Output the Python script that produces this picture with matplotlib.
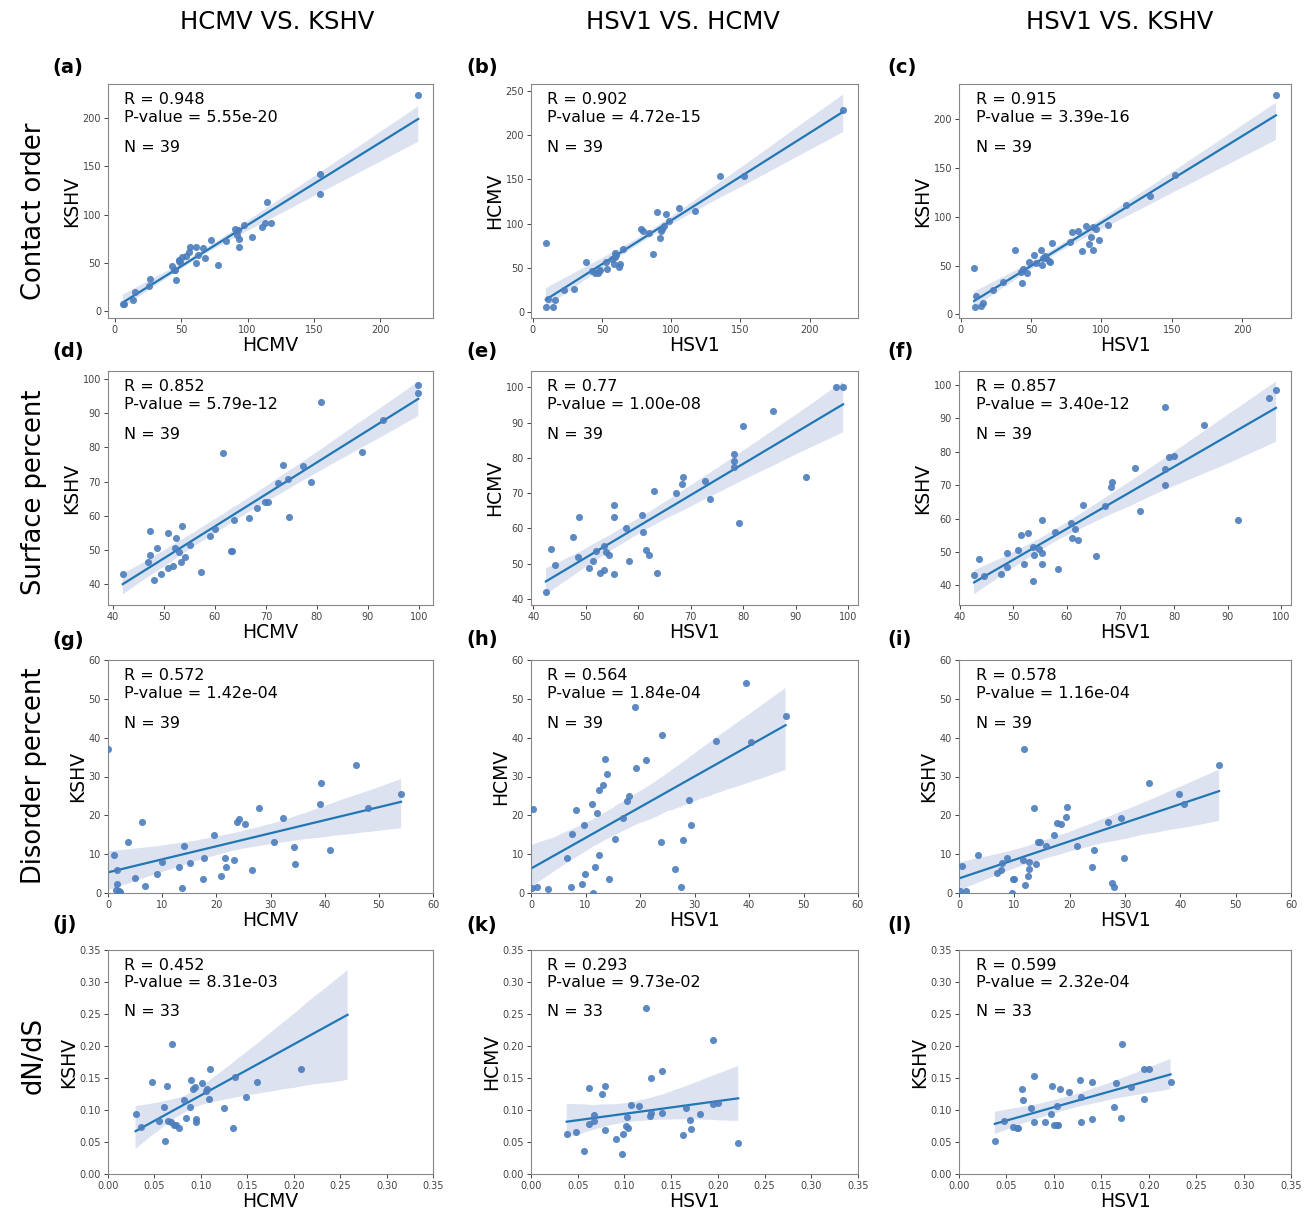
import matplotlib
matplotlib.use("Agg")
import matplotlib.pyplot as plt
import seaborn as sns

# ---- data ----
# contact order
co_a_hcmv = [228.5, 154.9, 154.4, 115, 118, 113.5, 111, 97.4, 90.3, 92.8, 92.3, 93.3, 93.3, 103.2,
             84, 72.6, 77.9, 66.6, 67.8, 61.5, 63, 61.3, 57, 55.7, 53.7, 50.4, 48.7, 48.2, 43.1,
             45.4, 44.4, 46.4, 26.5, 25.5, 15.1, 13.6, 6.1, 49.4, 7.1]
co_a_kshv = [224.4, 142.5, 121.5, 112.6, 91.6, 91.2, 87.4, 89.5, 85.4, 84.3, 78.8, 74.7, 66.4, 76.4,
             72.3, 73.3, 47.5, 65.1, 55.4, 66.1, 58.5, 50.3, 66.4, 60.9, 57.5, 55.8, 53, 52, 47.2,
             43, 42.3, 32.7, 33, 25.8, 19.6, 12, 7.6, 50.6, 7.2]
co_b_hsv1 = [224.1, 152.8, 135, 117.4, 105.4, 98.6, 96.2, 89.8, 94.6, 93.6, 92.8, 92.1, 78.2, 79.8,
             83.7, 86.9, 65.4, 59.1, 59.6, 57.2, 63.2, 62, 58.6, 53.1, 53.6, 38.7, 47.6, 42.8, 45.2,
             46.8, 48.3, 30, 22.8, 9.5, 11, 16.3, 9.8, 14.8, 60.4]
co_b_hcmv = [228.5, 154.2, 154.2, 114.8, 117.8, 102.9, 110.3, 113.3, 97, 94, 91.4, 84, 93.6, 92.1,
             89.5, 66.1, 71.7, 67.2, 62.4, 60.5, 54.6, 50.9, 54.2, 56.5, 49, 56.8, 46.4, 46.4, 43.8,
             44.6, 47.5, 26.4, 24.9, 77.6, 14.9, 13.4, 5.9, 5.9, 64.2]
co_c_hsv1 = [152.1, 134.5, 117.3, 104.8, 98.3, 95.9, 94.1, 89, 92.5, 91.5, 93.8, 86.4, 83.4, 79.2,
             77.8, 65, 56.7, 52.3, 58.3, 60.4, 57.6, 62.7, 63.4, 53.2, 48.3, 38.6, 44.4, 42.7, 47.2,
             43.2, 30, 22.8, 9.5, 10.9, 16, 14.6, 9.8, 224, 60]
co_c_kshv = [142.9, 121.5, 112.5, 91.5, 76.1, 87.5, 89.8, 90.8, 78.8, 72.1, 66.1, 65.4, 85.5, 84.1,
             74.5, 72.8, 65.8, 60.4, 57.8, 57.8, 50.4, 55.1, 54.1, 52.8, 53.4, 66.1, 46.1, 43.4, 42.1,
             32.7, 33.4, 25.4, 47.4, 19.4, 11.4, 8.3, 7.3, 225, 59.8]

# surface percent
sp_d_hcmv = [99.9, 99.9, 80.9, 93, 88.8, 61.5, 73.4, 77.2, 74.3, 72.4, 78.9, 69.8, 70.4, 68.2, 74.5,
             66.6, 63.7, 60, 59, 53.6, 47.3, 50.7, 52.4, 55, 48.6, 52.2, 53, 47.3, 54.1, 46.8, 63.2,
             53.4, 51.7, 50.7, 57.3, 49.4, 41.9, 48, 63.3]
sp_d_kshv = [98.3, 96, 93.3, 88, 78.7, 78.3, 75, 74.7, 70.9, 69.5, 70, 63.9, 64, 62.2, 59.7, 59.3,
             58.7, 56.2, 54.2, 57, 55.6, 55, 53.5, 51.5, 50.6, 50.5, 49.4, 48.6, 47.9, 46.4, 49.6,
             46.3, 45.4, 44.6, 43.5, 42.8, 42.9, 41.1, 49.6]
sp_e_hsv1 = [97.7, 99, 85.7, 80, 78.3, 78.3, 78.3, 92, 68.5, 68.3, 72.7, 73.6, 67.1, 63, 79.1, 55.3,
             55.3, 48.7, 60.7, 57.6, 60.9, 47.5, 43.3, 53.5, 51.9, 53.8, 54.5, 61.5, 62.1, 48.6,
             51.4, 58.2, 44.2, 50.7, 53.5, 52.7, 55.3, 63.6, 42.4]
sp_e_hcmv = [100, 100, 93.2, 89, 81.1, 79.1, 77.4, 74.5, 74.5, 72.5, 73.5, 68.4, 69.9, 70.5, 61.6,
             66.7, 63.2, 63.3, 63.8, 60.1, 59.1, 57.5, 54.2, 55.1, 53.6, 53.2, 52.4, 53.8, 52.5,
             51.8, 50.8, 50.8, 49.6, 48.8, 48.2, 47.5, 47, 47.4, 42.1]
sp_f_hsv1 = [78.3, 85.5, 79.1, 80, 72.7, 78.3, 78.3, 68.5, 68.3, 63.1, 67.1, 73.7, 92, 55.4, 60.8,
             61.6, 57.7, 52.8, 51.5, 61, 62.1, 50.8, 53.6, 54.8, 55.4, 53.8, 48.9, 48.8, 52, 55.4,
             65.4, 58.4, 47.7, 53.7, 43.6, 44.5, 42.7, 97.7, 99]
sp_f_kshv = [93.3, 88.1, 78.3, 78.7, 75.1, 74.8, 70.1, 70.8, 69.5, 64.1, 63.9, 62.2, 59.7, 59.5,
             58.8, 57, 56.1, 55.8, 55.1, 54.2, 53.6, 50.7, 51.5, 50.8, 49.8, 49.2, 49.6, 45.5, 46.3,
             46.5, 48.8, 44.8, 43.5, 41.3, 48, 42.9, 43, 96, 98.3]

# disorder percent
dp_g_hcmv = [0, 45.7, 39.3, 54.1, 39.1, 48, 27.9, 32.3, 24.1, 23.8, 25.2, 6.2, 19.5, 30.6, 3.7, 14,
             34.3, 40.9, 1.1, 17.8, 21.6, 23.2, 10, 15.2, 34.5, 21.8, 13.1, 26.5, 1.6, 9, 5, 17.5,
             20.8, 6.9, 13.7, 1.6, 1.4, 2, 2.3]
dp_g_kshv = [37.1, 32.9, 28.2, 25.4, 23, 22, 21.8, 19.4, 19.1, 18.2, 17.8, 18.2, 14.9, 13.2, 13.1,
             12.1, 11.9, 11.1, 9.7, 9, 8.9, 8.5, 8.1, 7.6, 7.5, 6.8, 6.6, 6, 5.8, 5, 3.8, 3.6, 4.4,
             1.9, 1.4, 2.4, 0.7, 0.4, 0.2]
dp_h_hsv1 = [39.4, 19.1, 46.7, 24.1, 34, 40.4, 13.6, 21.1, 19.2, 13.9, 13.3, 12.4, 18, 17.6, 11.2,
             29, 0.4, 8.3, 12.1, 16.9, 7.6, 9.7, 29.4, 15.4, 27.8, 23.9, 6.6, 12.4, 11.7, 9.9, 26.5,
             14.3, 9.3, 7.3, 27.5, 0.1, 1.1, 3.2, 11.4]
dp_h_hcmv = [54, 47.9, 45.5, 40.8, 39.2, 39, 34.5, 34.2, 32.2, 30.6, 27.8, 26.4, 25, 23.7, 23, 24,
             21.7, 21.5, 20.7, 19.4, 15.2, 17.5, 17.6, 13.9, 13.6, 13.1, 9, 9.9, 6.8, 5, 6.1, 3.7,
             2.2, 1.5, 1.5, 1.4, 1.5, 1.1, 0]
dp_i_hsv1 = [11.7, 47, 34.3, 39.7, 40.7, 19.5, 13.6, 19.4, 29.2, 26.9, 17.8, 18.4, 17.1, 14.2,
             14.6, 15.7, 21.4, 24.4, 3.4, 8.6, 29.8, 11.5, 7.8, 12.6, 13.9, 0.6, 7.5, 6.9, 12.7,
             24.1, 12.5, 10, 9.8, 11.9, 27.6, 28.1, 9.5, 1.3, 0.1]
dp_i_kshv = [37, 33, 28.2, 25.6, 23, 22.1, 21.9, 19.6, 19.2, 18.4, 18.1, 17.8, 14.9, 13.2, 13.1,
             12.2, 12.1, 11.1, 9.9, 9.1, 9, 8.5, 7.8, 8.1, 7.5, 7, 5.8, 5.1, 6.1, 6.6, 4.3, 3.7,
             3.5, 2, 2.5, 1.6, 0.1, 0.6, 0.5]

# dN/dS (last point in (j) sits above the visible y range)
dn_j_hcmv = [0.0693, 0.2078, 0.1099, 0.0892, 0.0475, 0.0631, 0.1016, 0.0936, 0.0914, 0.107,
             0.1055, 0.1367, 0.1607, 0.1491, 0.1088, 0.082, 0.0602, 0.0885, 0.1248, 0.0297,
             0.0544, 0.0649, 0.0842, 0.0943, 0.0943, 0.0682, 0.0707, 0.0736, 0.0765, 0.0355,
             0.1342, 0.0617, 0.258]
dn_j_kshv = [0.2038, 0.164, 0.164, 0.1468, 0.1432, 0.1374, 0.1421, 0.1353, 0.1327, 0.1327, 0.1296,
             0.152, 0.1442, 0.1207, 0.117, 0.116, 0.104, 0.105, 0.1034, 0.0935, 0.0825, 0.0831,
             0.0873, 0.0867, 0.082, 0.081, 0.0773, 0.0768, 0.0726, 0.0731, 0.0726, 0.0517, 0.36]
dn_k_hsv1 = [0.1235, 0.1949, 0.1399, 0.1283, 0.0618, 0.0792, 0.0765, 0.1068, 0.1154, 0.1949,
             0.1997, 0.1655, 0.1809, 0.1399, 0.1283, 0.127, 0.1027, 0.0669, 0.0679, 0.0618, 0.1014,
             0.1041, 0.1703, 0.1717, 0.0795, 0.098, 0.0382, 0.0481, 0.1631, 0.0908, 0.0567,
             0.0969, 0.2218]
dn_k_hcmv = [0.2588, 0.2086, 0.1615, 0.1497, 0.1348, 0.1374, 0.1256, 0.1081, 0.1066, 0.1092,
             0.1107, 0.103, 0.0943, 0.0953, 0.0953, 0.0907, 0.0897, 0.0923, 0.0825, 0.0774, 0.0743,
             0.0712, 0.0846, 0.0697, 0.0692, 0.063, 0.062, 0.0661, 0.061, 0.0548, 0.0364, 0.0308,
             0.0482]
dn_l_hsv1 = [0.1719, 0.1953, 0.2006, 0.0791, 0.1271, 0.1404, 0.223, 0.1659, 0.098, 0.0662, 0.1068,
             0.1817, 0.1155, 0.1281, 0.0676, 0.1953, 0.0763, 0.1029, 0.1638, 0.0973, 0.1712,
             0.1404, 0.0476, 0.0791, 0.0903, 0.1281, 0.1005, 0.104, 0.0567, 0.0609, 0.0623,
             0.0378, 0.1035]
dn_l_kshv = [0.2033, 0.1642, 0.1642, 0.1526, 0.1468, 0.1441, 0.1431, 0.1426, 0.1378, 0.1331,
             0.1325, 0.1357, 0.1283, 0.1209, 0.1156, 0.1172, 0.1035, 0.1056, 0.104, 0.0935, 0.0871,
             0.0866, 0.0824, 0.0813, 0.0813, 0.0813, 0.0771, 0.076, 0.0734, 0.0723, 0.0723, 0.0512,
             0.0765]

col_titles = ["HCMV VS. KSHV", "HSV1 VS. HCMV", "HSV1 VS. KSHV"]
row_titles = ["Contact order", "Surface percent", "Disorder percent", "dN/dS"]
letters = ["(a)", "(b)", "(c)", "(d)", "(e)", "(f)", "(g)", "(h)", "(i)", "(j)", "(k)", "(l)"]
r_values = ["0.948", "0.902", "0.915", "0.852", "0.77", "0.857",
            "0.572", "0.564", "0.578", "0.452", "0.293", "0.599"]
p_values = ["5.55e-20", "4.72e-15", "3.39e-16", "5.79e-12", "1.00e-08", "3.40e-12",
            "1.42e-04", "1.84e-04", "1.16e-04", "8.31e-03", "9.73e-02", "2.32e-04"]
n_values = [39, 39, 39, 39, 39, 39, 39, 39, 39, 33, 33, 33]

panels = [
    (co_a_hcmv, co_a_kshv, "HCMV", "KSHV"), (co_b_hsv1, co_b_hcmv, "HSV1", "HCMV"),
    (co_c_hsv1, co_c_kshv, "HSV1", "KSHV"),
    (sp_d_hcmv, sp_d_kshv, "HCMV", "KSHV"), (sp_e_hsv1, sp_e_hcmv, "HSV1", "HCMV"),
    (sp_f_hsv1, sp_f_kshv, "HSV1", "KSHV"),
    (dp_g_hcmv, dp_g_kshv, "HCMV", "KSHV"), (dp_h_hsv1, dp_h_hcmv, "HSV1", "HCMV"),
    (dp_i_hsv1, dp_i_kshv, "HSV1", "KSHV"),
    (dn_j_hcmv, dn_j_kshv, "HCMV", "KSHV"), (dn_k_hsv1, dn_k_hcmv, "HSV1", "HCMV"),
    (dn_l_hsv1, dn_l_kshv, "HSV1", "KSHV"),
]

W, H = 1305, 1213
fig = plt.figure(figsize=(W / 100, H / 100), dpi=100)

# axes boxes in pixels (left, right) per column and (top, bottom) per row
col_px = [(108, 433), (531, 858), (959, 1291)]
row_px = [(84, 318), (371, 605), (660, 893), (950, 1174)]
letter_x = [52, 466, 887]
letter_y = [68, 352, 640, 925]
title_x = [277, 683, 1120]
row_title_y = [211, 492, 776, 1055]

for i, (x, y, xl, yl) in enumerate(panels):
    r, c = divmod(i, 3)
    l, rr = col_px[c]
    t, b = row_px[r]
    ax = fig.add_axes([l / W, 1 - b / H, (rr - l) / W, (b - t) / H])
    ax.scatter(x, y, s=26, color="#4c7dbd", alpha=0.9, linewidths=0, zorder=3)
    sns.regplot(x=x, y=y, ax=ax, scatter=False, color="#4c72b0", seed=1,
                line_kws={"color": "#1f77b4", "lw": 1.6})
    band = ax.collections[-1]
    band.set_facecolor("#dde2f1")
    band.set_alpha(1)
    if r == 2:
        ax.set_xlim(0, 60)
        ax.set_ylim(0, 60)
    elif r == 3:
        ax.set_xlim(0, 0.35)
        ax.set_ylim(0, 0.35)
        ax.set_xticks([0, 0.05, 0.1, 0.15, 0.2, 0.25, 0.3, 0.35])
    ax.set_xlabel(xl, fontsize=13.5, labelpad=1)
    ax.set_ylabel(yl, fontsize=13.5, labelpad=1)
    ax.tick_params(labelsize=7, colors="#444444", length=3, width=0.7, pad=2)
    for s in ax.spines.values():
        s.set_color("#888888")
        s.set_linewidth(0.8)
    ax.text(0.05, 0.965, f"R = {r_values[i]}\nP-value = {p_values[i]}", transform=ax.transAxes,
            fontsize=11.5, va="top", ha="left", linespacing=1.2)
    ax.text(0.05, 0.76, f"N = {n_values[i]}", transform=ax.transAxes,
            fontsize=11.5, va="top", ha="left")
    fig.text(letter_x[c] / W, 1 - letter_y[r] / H, letters[i], fontsize=14, fontweight="bold",
             ha="left", va="center")

for c, title in enumerate(col_titles):
    fig.text(title_x[c] / W, 1 - 22 / H, title, fontsize=17.5, ha="center", va="center")

for r, title in enumerate(row_titles):
    fig.text(34 / W, 1 - row_title_y[r] / H, title, fontsize=18.5, rotation=90,
             ha="center", va="center")

fig.savefig("out.png", dpi=100)
